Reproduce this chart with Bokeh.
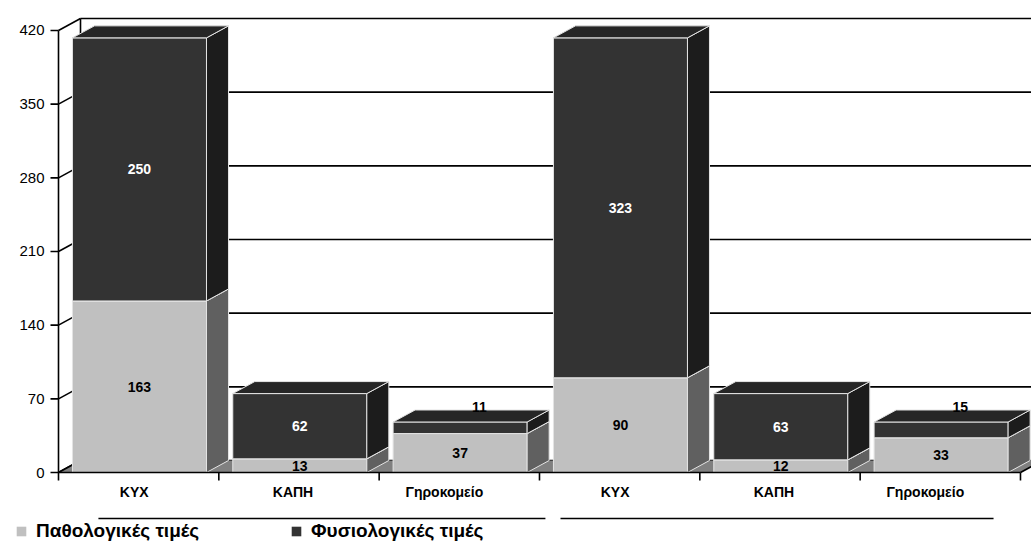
from bokeh.plotting import figure
from bokeh.models import Range1d, Legend, LegendItem
from bokeh.embed import file_html
from bokeh.resources import INLINE

# ---------------- data ----------------
categories = ["ΚΥΧ", "ΚΑΠΗ", "Γηροκομείο", "ΚΥΧ", "ΚΑΠΗ", "Γηροκομείο"]
pathological = [163, 13, 37, 90, 12, 33]
physiological = [250, 62, 11, 323, 63, 15]
series_names = ["Παθολογικές τιμές", "Φυσιολογικές τιμές"]
y_ticks = [0, 70, 140, 210, 280, 350, 420]

# ---------------- style ----------------
FONT = "Liberation Sans"
LIGHT_FRONT, LIGHT_SIDE, LIGHT_TOP = "#c0c0c0", "#606060", "#a0a0a0"
DARK_FRONT, DARK_SIDE, DARK_TOP = "#333333", "#1c1c1c", "#262626"
FLOOR = "#808080"
EDGE = "#e4e4e4"

W, H = 1031, 543
PX_X = 160.33                 # px per category
PX_Y = 462 / 439.0            # px per value unit
XMIN = -58 / PX_X
XMAX = XMIN + W / PX_X
YMIN = -(H - 472) / PX_Y
YMAX = YMIN + H / PX_Y
YTOP = y_ticks[-1]
DX = 22 / PX_X                # depth offset (x, data units)
DY = 11.4                     # depth offset (y, data units)
HALF = 0.418
OFF = 0.505
LW = 1.6

n = len(categories)

p = figure(width=W, height=H, x_range=Range1d(XMIN, XMAX), y_range=Range1d(YMIN, YMAX),
           min_border_left=0, min_border_right=0, min_border_top=0, min_border_bottom=0,
           output_backend="svg", toolbar_location=None, x_axis_type=None, y_axis_type=None)
p.outline_line_color = None
p.background_fill_color = "white"
p.border_fill_color = "white"

# back wall gridlines
p.segment(x0=[DX] * len(y_ticks), y0=[v + DY for v in y_ticks],
          x1=[XMAX] * len(y_ticks), y1=[v + DY for v in y_ticks],
          line_color="black", line_width=LW)
# left wall diagonals and back edge
p.segment(x0=[0] * len(y_ticks), y0=y_ticks, x1=[DX] * len(y_ticks), y1=[v + DY for v in y_ticks],
          line_color="black", line_width=LW)
p.segment(x0=[DX], y0=[DY], x1=[DX], y1=[YTOP + DY], line_color="black", line_width=LW)

# floor
p.patch(x=[0, n, n + DX, DX], y=[0, 0, DY, DY], fill_color=FLOOR, line_color=None)
p.segment(x0=[0, n], y0=[0, 0], x1=[DX, n + DX], y1=[DY, DY], line_color="black", line_width=LW)

# value axis at x = 0
TICK_X = 8 / PX_X
p.segment(x0=[0], y0=[0], x1=[0], y1=[YTOP], line_color="black", line_width=LW)
p.segment(x0=[-TICK_X] * len(y_ticks), y0=y_ticks, x1=[0] * len(y_ticks), y1=y_ticks,
          line_color="black", line_width=LW)
p.text(x=[-(TICK_X + 6 / PX_X)] * len(y_ticks), y=y_ticks, text=[str(v) for v in y_ticks],
       text_align="right", text_baseline="middle", text_color="black",
       text_font={"value": FONT}, text_font_size="15px")

# 3D stacked bars: one renderer per series (light drawn first, dark on top)
faces = {0: ([], [], []), 1: ([], [], [])}
lx, ly, lt, lc = [], [], [], []
for i in range(n):
    c = i + OFF
    x0, x1 = c - HALF, c + HALF
    base = 0
    for s, (val, fc, sc, tc) in enumerate([(pathological[i], LIGHT_FRONT, LIGHT_SIDE, LIGHT_TOP),
                                           (physiological[i], DARK_FRONT, DARK_SIDE, DARK_TOP)]):
        xs, ys, fills = faces[s]
        t = base + val
        xs.append([x0, x1, x1, x0]); ys.append([base, base, t, t]); fills.append(fc)
        xs.append([x1, x1 + DX, x1 + DX, x1]); ys.append([base, base + DY, t + DY, t]); fills.append(sc)
        xs.append([x0, x1, x1 + DX, x0 + DX]); ys.append([t, t, t + DY, t + DY]); fills.append(tc)
        base = t
    # value labels
    lx.append(c); ly.append(pathological[i] / 2); lt.append(str(pathological[i])); lc.append("black")
    top = pathological[i] + physiological[i]
    if physiological[i] < 20:
        lx.append(c + 0.12); ly.append(top + DY + 2.5); lc.append("black")
    else:
        lx.append(c); ly.append(pathological[i] + physiological[i] / 2); lc.append("white")
    lt.append(str(physiological[i]))

for s in (0, 1):
    xs, ys, fills = faces[s]
    p.patches(xs=xs, ys=ys, fill_color=fills, line_color=EDGE, line_width=1)

p.text(x=lx, y=ly, text=lt, text_color=lc, text_align="center", text_baseline="middle",
       text_font={"value": FONT}, text_font_style="bold", text_font_size="14px")

# category axis at y = 0
TICK_Y = 8 / PX_Y
bounds = list(range(n + 1))
p.segment(x0=[0], y0=[0], x1=[n], y1=[0], line_color="black", line_width=LW)
p.segment(x0=bounds, y0=[0] * len(bounds), x1=bounds, y1=[-TICK_Y] * len(bounds),
          line_color="black", line_width=LW)
p.text(x=[i + 0.5 - 1.5 * len(cat) / PX_X for i, cat in enumerate(categories)],
       y=[-19.5 / PX_Y] * n, text=categories,
       text_align="center", text_baseline="middle", text_color="black",
       text_font={"value": FONT}, text_font_style="bold", text_font_size="14px")

# group separator lines
Y_LINE = -46 / PX_Y
p.segment(x0=[0.249, 3.131], y0=[Y_LINE, Y_LINE], x1=[3.037, 5.832], y1=[Y_LINE, Y_LINE],
          line_color="black", line_width=1.5)

# legend
d1 = p.patches(xs=[[]], ys=[[]], fill_color=LIGHT_FRONT, line_color=None)
d2 = p.patches(xs=[[]], ys=[[]], fill_color=DARK_FRONT, line_color=None)
for r, name, loc in [(d1, series_names[0], (15, 1)), (d2, series_names[1], (290, 1))]:
    leg = Legend(items=[LegendItem(label=name, renderers=[r])], location=loc,
                 margin=0, padding=0, border_line_color=None, background_fill_alpha=0,
                 glyph_width=12, glyph_height=12, label_standoff=9, label_height=22,
                 label_text_font=FONT, label_text_font_style="bold", label_text_font_size="19px",
                 label_text_color="black")
    p.add_layout(leg)

open("out.html", "w").write(file_html(p, INLINE))
